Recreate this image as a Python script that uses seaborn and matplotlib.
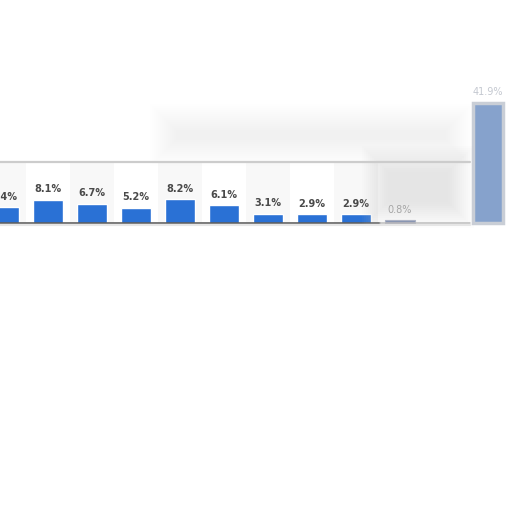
# bar chart of shares, cropped statista style panel
import pandas as pd
import seaborn as sns
import matplotlib.pyplot as plt
from matplotlib.patches import Rectangle
from matplotlib.lines import Line2D

# ----------------------------------------------------------
# data
# ----------------------------------------------------------
slots = ["s0", "s1", "s2", "s3", "s4", "s5", "s6", "s7", "s8", "s9", "s10", "s11"]
shares = [5.4, 8.1, 6.7, 5.2, 8.2, 6.1, 3.1, 2.9, 2.9, 0.8, 0.0, 42.0]
labels = ["5.4%", "8.1%", "6.7%", "5.2%", "8.2%", "6.1%", "3.1%", "2.9%", "2.9%",
          "0.8%", "", "41.9%"]
bar_colors = ["#2a71d5"] * 9 + ["#7f8fb2", "#ffffff", "#86a2cc"]
label_colors = ["#4a4a4a"] * 9 + ["#9a9a9a", "#ffffff", "#c4c8d0"]

df = pd.DataFrame({"slot": slots, "share": shares})

# ----------------------------------------------------------
# main
# ----------------------------------------------------------
sns.set_style("white")
fig = plt.figure(figsize=(5.12, 5.12), dpi=100)
ax = fig.add_axes([0, 0, 1, 1])

sns.barplot(data=df, x="slot", y="share", hue="slot", palette=bar_colors,
            width=0.68, saturation=1, legend=False, ax=ax, zorder=3)

# pixel layout: slot i centred at 4 + 44*i px, baseline at 222.7 px from top
ax.set_xlim(-4 / 44, 508 / 44)
ax.set_ylim(-289.3 / 2.85, (512 - 289.3) / 2.85)
ax.axis("off")

# faint column bands
for i in range(0, 10, 2):
    ax.axvspan(i - 0.5, i + 0.5, ymin=289.3 / 512, ymax=1 - 162 / 512,
               color="#f8f8f8", zorder=0, lw=0)

# blurred overlay, soft edges from stacked transparent boxes
for k in range(14):
    d = k * 2 / 512
    fig.patches.append(Rectangle((150 / 512 + d, 1 - 166 / 512 + d),
                                 322 / 512 - 2 * d, 62 / 512 - 2 * d,
                                 transform=fig.transFigure, color="#d8d8d8",
                                 alpha=0.025, lw=0, zorder=0.5))
    fig.patches.append(Rectangle((362 / 512 + d, 1 - 228 / 512 + d),
                                 112 / 512 - 2 * d, 82 / 512 - 2 * d,
                                 transform=fig.transFigure, color="#cccccc",
                                 alpha=0.035, lw=0, zorder=0.5))

# frame lines
fig.add_artist(Line2D([0, 470 / 512], [1 - 162 / 512] * 2, transform=fig.transFigure,
                      color="#cccccc", lw=1.6, zorder=1))
fig.add_artist(Line2D([0, 470 / 512], [1 - 224.5 / 512] * 2, transform=fig.transFigure,
                      color="#e6e6e6", lw=1.5, zorder=1))
ax.axhline(0, xmin=0, xmax=380 / 512, color="#555555", lw=1.1, zorder=4)
ax.axhline(0, xmin=380 / 512, xmax=470 / 512, color="#bbbbbb", lw=1.1, zorder=4)

# value labels and the blurred tall bar
for cont, lab, col in zip(ax.containers, labels, label_colors):
    if lab == "":
        continue
    bold = col == "#4a4a4a"
    ax.bar_label(cont, labels=[lab], padding=4, fontsize=7, color=col,
                 fontweight="bold" if bold else "normal", zorder=5)
ax.containers[-1][0].set_edgecolor("#c9ced6")
ax.containers[-1][0].set_linewidth(2.5)
ax.containers[-3][0].set_edgecolor("#a8b2c4")
ax.containers[-3][0].set_linewidth(0.8)

plt.savefig("out.png", dpi=100)
plt.close()
